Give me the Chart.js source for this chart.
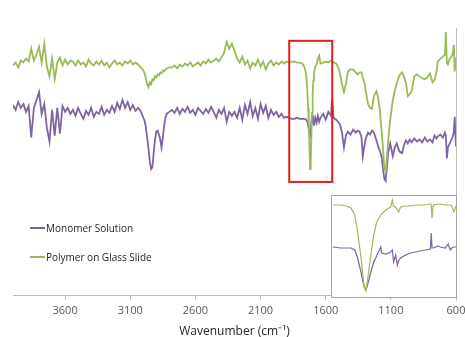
<!DOCTYPE html>
<html>
<head>
<meta charset="utf-8">
<script src="https://cdn.jsdelivr.net/npm/chart.js@4.4.1/dist/chart.umd.min.js"></script>
<style>
  html, body { margin: 0; padding: 0; background: #ffffff; }
  #wrap { position: relative; width: 465px; height: 337px; overflow: hidden; }
  #main { position: absolute; left: 0; top: 0; }
  #insetBox { position: absolute; left: 331px; top: 195px; width: 124px; height: 101px;
              border: 1px solid #a6a6a6; background: #ffffff; }
  .leg { position: absolute; left: 30px; font-family: "Open Sans", "Liberation Sans", sans-serif;
         font-size: 10px; color: #262626; white-space: nowrap; line-height: 12px; }
  .leg span.sw { display: inline-block; width: 15px; height: 2px; vertical-align: middle;
                 margin-right: 1px; position: relative; top: -1px; }
</style>
</head>
<body>
<div id="wrap">
  <canvas id="main" width="465" height="339"></canvas>
  <div class="leg" id="leg1" style="top:222px"><span class="sw" style="background:#8064A2"></span>Monomer Solution</div>
  <div class="leg" id="leg2" style="top:251px"><span class="sw" style="background:#9BBB59"></span>Polymer on Glass Slide</div>
  <div id="insetBox"><canvas id="inset" width="124" height="101"></canvas></div>
</div>
<script>
// ---------- DATA ----------
const seriesNames = ["Monomer Solution", "Polymer on Glass Slide"];
const tickValues = [3600, 3100, 2600, 2100, 1600, 1100, 600];
const axisTitle = "Wavenumber (cm\u207B\u00B9)";

const wavenumbers = [
  4000,3980,3960,3940,3920,3900,3880,3860,3840,3820,3800,3780,3760,3740,3720,3700,3680,3660,3640,3620,3600,3580,3560,
  3540,3520,3500,3480,3460,3440,3420,3400,3380,3360,3340,3320,3300,3280,3260,3240,3220,3200,3180,3160,3140,3120,3100,3080,3060,
  3040,3020,3000,2990,2980,2970,2960,2950,2940,2930,2920,2910,2900,2890,2880,2870,2860,2850,2840,2830,2820,2800,
  2780,2760,2740,2720,2700,2680,2660,2640,2620,2600,2580,2560,2540,2520,2500,2480,2460,2440,2420,2400,2380,2360,2340,2320,
  2300,2280,2260,2240,2220,2200,2180,2160,2140,2120,2100,2080,2060,2040,2020,2000,1980,1960,1940,1920,1900,1880,
  1860,1840,1820,1800,1780,1770,1760,1750,1740,1735,1730,1725,1720,1715,1710,1705,1700,1695,1690,1680,1670,1660,1650,1640,1620,1600,1580,1560,1550,1540,
  1520,1500,1490,1475,1460,1445,1430,1410,1390,1370,1355,1340,1325,1315,1300,1290,1275,1260,1245,1230,1210,1195,1185,1170,1160,1150,1140,1130,1120,1105,
  1085,1070,1055,1035,1015,1000,985,970,955,940,920,900,880,860,840,820,800,780,765,750,740,720,700,685,678,670,662,648,635,625,617,610,600
];

const polymer = [
  233,236,231,238,236,240,237,250,238,244,252,236,255,232,222,240,219,236,241,233,239,234,238,
  237,233,238,234,236,232,239,235,233,237,234,238,233,236,231,235,238,234,236,233,237,235,238,234,236,
  234,231,228,225,220,214,211,216,214,219,218,222,221,224,223,226,225,228,227,229,230,231,
  231,233,230,234,232,235,233,236,232,234,236,233,237,235,239,236,238,240,237,241,246,257,250,255,
  248,240,236,242,234,238,230,236,233,239,232,237,229,235,238,233,236,234,237,235,237,236,
  237,237,236,236,235,233,230,224,205,190,172,150,128,135,160,185,205,218,226,232,234,240,243,235,236,237,236,238,237,236,
  235,230,224,214,206,214,227,229,229,226,224,226,226,220,214,205,194,190,189,202,207,198,189,165,148,128,126,140,158,178,
  198,207,215,223,226,222,216,202,204,207,222,224,222,220,219,221,225,216,218,226,237,240,242,244,267,236,234,240,242,245,254,227,241
];

const monomer = [
  193,188,196,190,194,186,192,160,190,198,206,184,194,170,156,188,162,190,164,192,186,190,184,
  188,182,190,184,179,187,183,190,181,186,184,191,183,188,185,192,186,195,189,198,190,196,188,193,187,
  190,187,180,177,170,160,148,136,128,130,145,158,166,167,163,158,150,160,172,180,184,186,
  188,185,190,184,189,186,191,185,188,183,190,187,184,189,185,191,186,180,188,184,190,176,186,182,
  186,180,190,178,193,184,196,182,190,179,194,185,192,180,188,183,186,181,184,180,181,180,
  179,179,180,179,179,179,179,178,176,172,168,165,160,166,176,182,174,178,172,180,175,182,176,180,184,178,186,182,200,180,
  178,175,173,165,150,162,166,163,168,165,167,166,160,141,154,160,165,163,167,165,157,150,147,140,128,118,116,131,145,154,
  141,150,154,146,144,152,157,154,158,155,159,156,158,155,160,156,158,155,162,159,161,163,160,165,162,139,150,154,158,161,165,181,151
];

// Highlighted region (red box) in data units
const boxWavenumbers = [1880, 1550];
const boxValues = [115, 258];

// Inset (zoom of carbonyl region)
const insetWavenumbers = [1798,1778,1766,1754,1745,1738,1730,1723,1718,1714,1706,1699,1692,1682,1680,1670,1658,1654,1651,1646,1642,1639,1634,1622,1610,1598,1586,1574,1562,1560,1558,1555,1543,1538,1526,1519,1514,1510,1505,1500];
const insetPolymer = [92,92,91,89,82,65,40,13,6,17,42,62,75,82,83,87,90,97,91,90,87,85,90,91,91,92,92,92,93,93,79,92,93,93,92,92,92,91,85,91];
const insetMonomer = [50,49,49,49,47,39,25,11,7,12,25,35,41,50,44,43,45,47,35,42,32,36,39,42,44,45,46,47,48,64,49,49,51,50,49,53,47,49,50,50];

const colors = { monomer: "#8064A2", polymer: "#9BBB59", axis: "#bfbfbf", box: "#E3211C" };

// ---------- CHARTS ----------
function pts(xs, ys) { return xs.map((x, i) => ({ x: x, y: ys[i] })); }

const boxPlugin = {
  id: 'boxPlugin',
  afterDatasetsDraw(chart) {
    const { ctx, scales: { x, y } } = chart;
    const x1 = x.getPixelForValue(boxWavenumbers[0]);
    const x2 = x.getPixelForValue(boxWavenumbers[1]);
    const y1 = y.getPixelForValue(boxValues[1]);
    const y2 = y.getPixelForValue(boxValues[0]);
    ctx.save();
    ctx.strokeStyle = colors.box;
    ctx.lineWidth = 2;
    ctx.strokeRect(Math.min(x1, x2), y1, Math.abs(x2 - x1), y2 - y1);
    ctx.restore();
  }
};

new Chart(document.getElementById('main'), {
  type: 'line',
  data: {
    datasets: [
      { label: seriesNames[1], data: pts(wavenumbers, polymer), borderColor: colors.polymer, borderWidth: 1.8, pointRadius: 0, tension: 0 },
      { label: seriesNames[0], data: pts(wavenumbers, monomer), borderColor: colors.monomer, borderWidth: 1.8, pointRadius: 0, tension: 0 }
    ]
  },
  options: {
    responsive: false, animation: false, devicePixelRatio: 1,
    layout: { padding: { left: 13, right: 9, top: 28, bottom: 0 } },
    plugins: { legend: { display: false }, tooltip: { enabled: false } },
    scales: {
      x: {
        type: 'linear', reverse: true, min: 600, max: 4000,
        afterBuildTicks: (s) => { s.ticks = tickValues.map(v => ({ value: v })); },
        afterFit: (s) => { s.paddingLeft = 0; s.paddingRight = 0; },
        ticks: { autoSkip: false, maxRotation: 0, color: '#595959', padding: 4,
                 font: { family: "'Open Sans', 'Liberation Sans', sans-serif", size: 11 },
                 callback: (v) => String(v) },
        grid: { drawOnChartArea: false, drawTicks: true, tickLength: 5, color: colors.axis },
        border: { display: true, color: colors.axis, width: 1 },
        title: { display: true, text: axisTitle, color: '#262626', padding: { top: 3, bottom: 0 },
                 font: { family: "'Open Sans', 'Liberation Sans', sans-serif", size: 12 } }
      },
      y: {
        position: 'right', min: 0, max: 271,
        ticks: { display: false },
        grid: { display: false, drawTicks: false },
        border: { display: true, color: colors.axis, width: 1 }
      }
    }
  },
  plugins: [boxPlugin]
});

new Chart(document.getElementById('inset'), {
  type: 'line',
  data: {
    datasets: [
      { label: seriesNames[1], data: pts(insetWavenumbers, insetPolymer), borderColor: colors.polymer, borderWidth: 1.2, pointRadius: 0, tension: 0 },
      { label: seriesNames[0], data: pts(insetWavenumbers, insetMonomer), borderColor: colors.monomer, borderWidth: 1.2, pointRadius: 0, tension: 0 }
    ]
  },
  options: {
    responsive: false, animation: false, devicePixelRatio: 1,
    layout: { padding: 0 },
    plugins: { legend: { display: false }, tooltip: { enabled: false } },
    scales: {
      x: { type: 'linear', reverse: true, min: 1500, max: 1800, display: false },
      y: { min: 0, max: 101, display: false }
    }
  }
});
</script>
</body>
</html>
